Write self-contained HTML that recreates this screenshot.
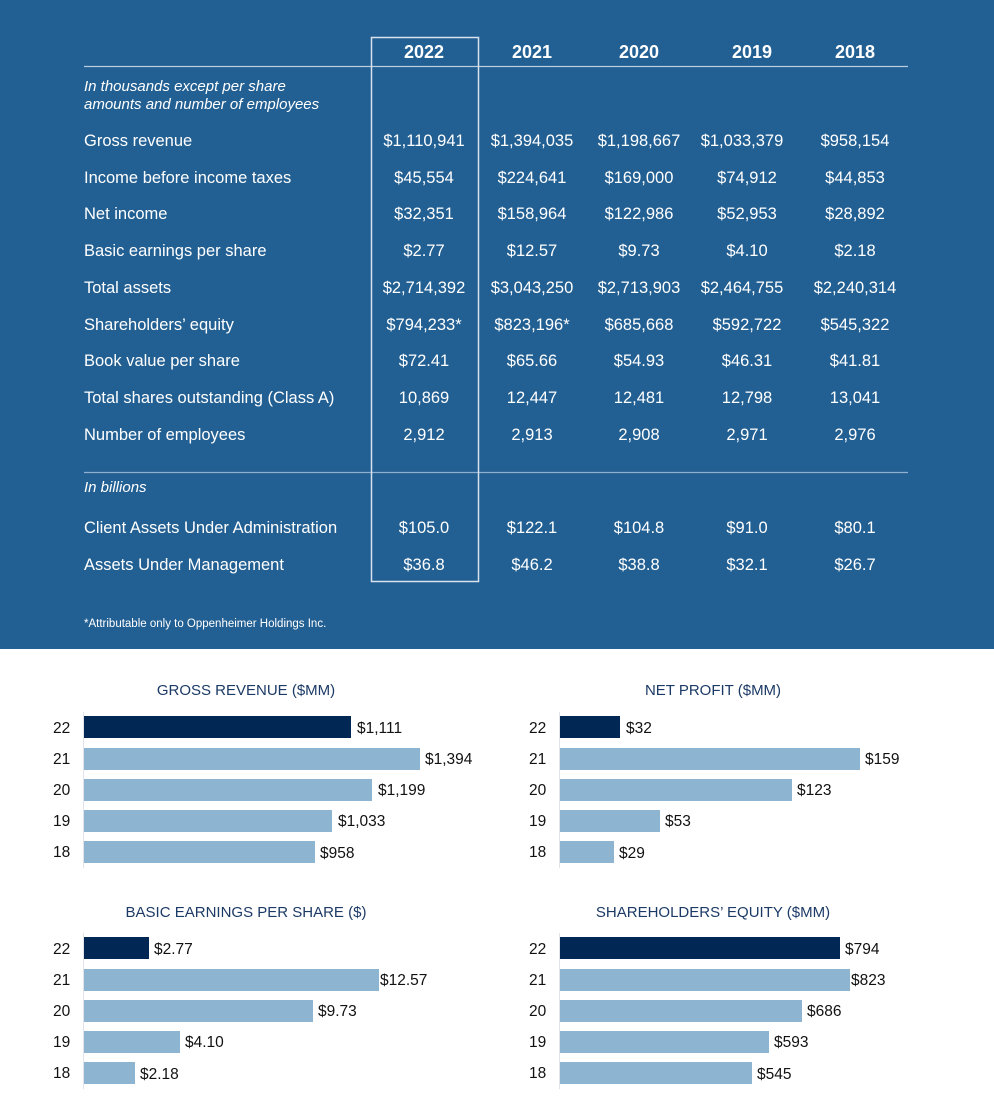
<!DOCTYPE html>
<html><head><meta charset="utf-8"><style>
html,body{margin:0;padding:0;background:#fff}
svg{display:block}
.w{fill:#fff;font-family:"Liberation Sans",sans-serif}
.t{fill:#fff;font-size:16.5px}
.c{text-anchor:middle}
.h{font-size:18px;font-weight:bold}
.ti{fill:#1c3a66;font-family:"Liberation Sans",sans-serif;font-size:15px;text-anchor:middle}
.l{fill:#111;font-family:"Liberation Sans",sans-serif;font-size:15.5px}
</style></head><body>
<svg width="994" height="1108" viewBox="0 0 994 1108" xmlns="http://www.w3.org/2000/svg">
<rect x="0" y="0" width="994" height="649" fill="#225f92"/>
<line x1="84" y1="66.5" x2="908" y2="66.5" stroke="#b8cde0" stroke-width="1.3"/>
<line x1="84" y1="472.5" x2="908" y2="472.5" stroke="#8fb0cf" stroke-width="1.3"/>
<rect x="371.5" y="37.5" width="107" height="544" fill="none" stroke="#d8e3ee" stroke-width="1.5"/>
<g class="w h c">
<text x="424" y="58">2022</text><text x="532" y="58">2021</text><text x="639" y="58">2020</text><text x="752" y="58">2019</text><text x="855" y="58">2018</text>
</g>
<g class="w t" font-style="italic" font-size="15">
<text x="84" y="91" style="font-size:15px">In thousands except per share</text>
<text x="84" y="109" style="font-size:15px">amounts and number of employees</text>
<text x="84" y="492" style="font-size:15px">In billions</text>
</g>
<g class="w t">
<text x="84" y="146">Gross revenue</text>
<text x="84" y="183">Income before income taxes</text>
<text x="84" y="219">Net income</text>
<text x="84" y="256">Basic earnings per share</text>
<text x="84" y="293">Total assets</text>
<text x="84" y="330">Shareholders’ equity</text>
<text x="84" y="366">Book value per share</text>
<text x="84" y="403">Total shares outstanding (Class A)</text>
<text x="84" y="440">Number of employees</text>
<text x="84" y="533">Client Assets Under Administration</text>
<text x="84" y="570">Assets Under Management</text>
</g>
<g class="w t c">
<text x="424" y="146">$1,110,941</text><text x="532" y="146">$1,394,035</text><text x="639" y="146">$1,198,667</text><text x="742" y="146">$1,033,379</text><text x="855" y="146">$958,154</text>
<text x="424" y="183">$45,554</text><text x="532" y="183">$224,641</text><text x="639" y="183">$169,000</text><text x="747" y="183">$74,912</text><text x="855" y="183">$44,853</text>
<text x="424" y="219">$32,351</text><text x="532" y="219">$158,964</text><text x="639" y="219">$122,986</text><text x="747" y="219">$52,953</text><text x="855" y="219">$28,892</text>
<text x="424" y="256">$2.77</text><text x="532" y="256">$12.57</text><text x="639" y="256">$9.73</text><text x="747" y="256">$4.10</text><text x="855" y="256">$2.18</text>
<text x="424" y="293">$2,714,392</text><text x="532" y="293">$3,043,250</text><text x="639" y="293">$2,713,903</text><text x="742" y="293">$2,464,755</text><text x="855" y="293">$2,240,314</text>
<text x="424" y="330">$794,233*</text><text x="532" y="330">$823,196*</text><text x="639" y="330">$685,668</text><text x="747" y="330">$592,722</text><text x="855" y="330">$545,322</text>
<text x="424" y="366">$72.41</text><text x="532" y="366">$65.66</text><text x="639" y="366">$54.93</text><text x="747" y="366">$46.31</text><text x="855" y="366">$41.81</text>
<text x="424" y="403">10,869</text><text x="532" y="403">12,447</text><text x="639" y="403">12,481</text><text x="747" y="403">12,798</text><text x="855" y="403">13,041</text>
<text x="424" y="440">2,912</text><text x="532" y="440">2,913</text><text x="639" y="440">2,908</text><text x="747" y="440">2,971</text><text x="855" y="440">2,976</text>
<text x="424" y="533">$105.0</text><text x="532" y="533">$122.1</text><text x="639" y="533">$104.8</text><text x="747" y="533">$91.0</text><text x="855" y="533">$80.1</text>
<text x="424" y="570">$36.8</text><text x="532" y="570">$46.2</text><text x="639" y="570">$38.8</text><text x="747" y="570">$32.1</text><text x="855" y="570">$26.7</text>
</g>
<text class="w" x="84" y="627" style="font-size:11.5px">*Attributable only to Oppenheimer Holdings Inc.</text>

<text class="ti" x="246" y="695">GROSS REVENUE ($MM)</text>
<text class="ti" x="713" y="695">NET PROFIT ($MM)</text>
<text class="ti" x="246" y="917">BASIC EARNINGS PER SHARE ($)</text>
<text class="ti" x="713" y="917">SHAREHOLDERS’ EQUITY ($MM)</text>

<g stroke="#e0e4e8" stroke-width="1">
<line x1="83.5" y1="712" x2="83.5" y2="868"/><line x1="559.5" y1="712" x2="559.5" y2="868"/>
<line x1="83.5" y1="933" x2="83.5" y2="1089"/><line x1="559.5" y1="933" x2="559.5" y2="1089"/>
</g>
<g fill="#8db5d1">
<rect x="84" y="748" width="336" height="22"/><rect x="84" y="779" width="288" height="22"/><rect x="84" y="810" width="248" height="22"/><rect x="84" y="841" width="231" height="22"/>
<rect x="560" y="748" width="300" height="22"/><rect x="560" y="779" width="232" height="22"/><rect x="560" y="810" width="100" height="22"/><rect x="560" y="841" width="54" height="22"/>
<rect x="84" y="969" width="295" height="22"/><rect x="84" y="1000" width="229" height="22"/><rect x="84" y="1031" width="96" height="22"/><rect x="84" y="1062" width="51" height="22"/>
<rect x="560" y="969" width="290" height="22"/><rect x="560" y="1000" width="242" height="22"/><rect x="560" y="1031" width="209" height="22"/><rect x="560" y="1062" width="192" height="22"/>
</g>
<g fill="#012754">
<rect x="84" y="716" width="267" height="22"/><rect x="560" y="716" width="60" height="22"/>
<rect x="84" y="937" width="65" height="22"/><rect x="560" y="937" width="280" height="22"/>
</g>
<g class="l">
<text x="53" y="733">22</text><text x="53" y="764">21</text><text x="53" y="795">20</text><text x="53" y="826">19</text><text x="53" y="857">18</text>
<text x="529" y="733">22</text><text x="529" y="764">21</text><text x="529" y="795">20</text><text x="529" y="826">19</text><text x="529" y="857">18</text>
<text x="53" y="954">22</text><text x="53" y="985">21</text><text x="53" y="1016">20</text><text x="53" y="1047">19</text><text x="53" y="1078">18</text>
<text x="529" y="954">22</text><text x="529" y="985">21</text><text x="529" y="1016">20</text><text x="529" y="1047">19</text><text x="529" y="1078">18</text>
<text x="357" y="733">$1,111</text><text x="425" y="764">$1,394</text><text x="378" y="795">$1,199</text><text x="338" y="826">$1,033</text><text x="320" y="858">$958</text>
<text x="626" y="733">$32</text><text x="865" y="764">$159</text><text x="797" y="795">$123</text><text x="665" y="826">$53</text><text x="619" y="858">$29</text>
<text x="154" y="954">$2.77</text><text x="380" y="985">$12.57</text><text x="318" y="1016">$9.73</text><text x="185" y="1047">$4.10</text><text x="140" y="1079">$2.18</text>
<text x="845" y="954">$794</text><text x="851" y="985">$823</text><text x="807" y="1016">$686</text><text x="774" y="1047">$593</text><text x="757" y="1079">$545</text>
</g>
</svg>
</body></html>
